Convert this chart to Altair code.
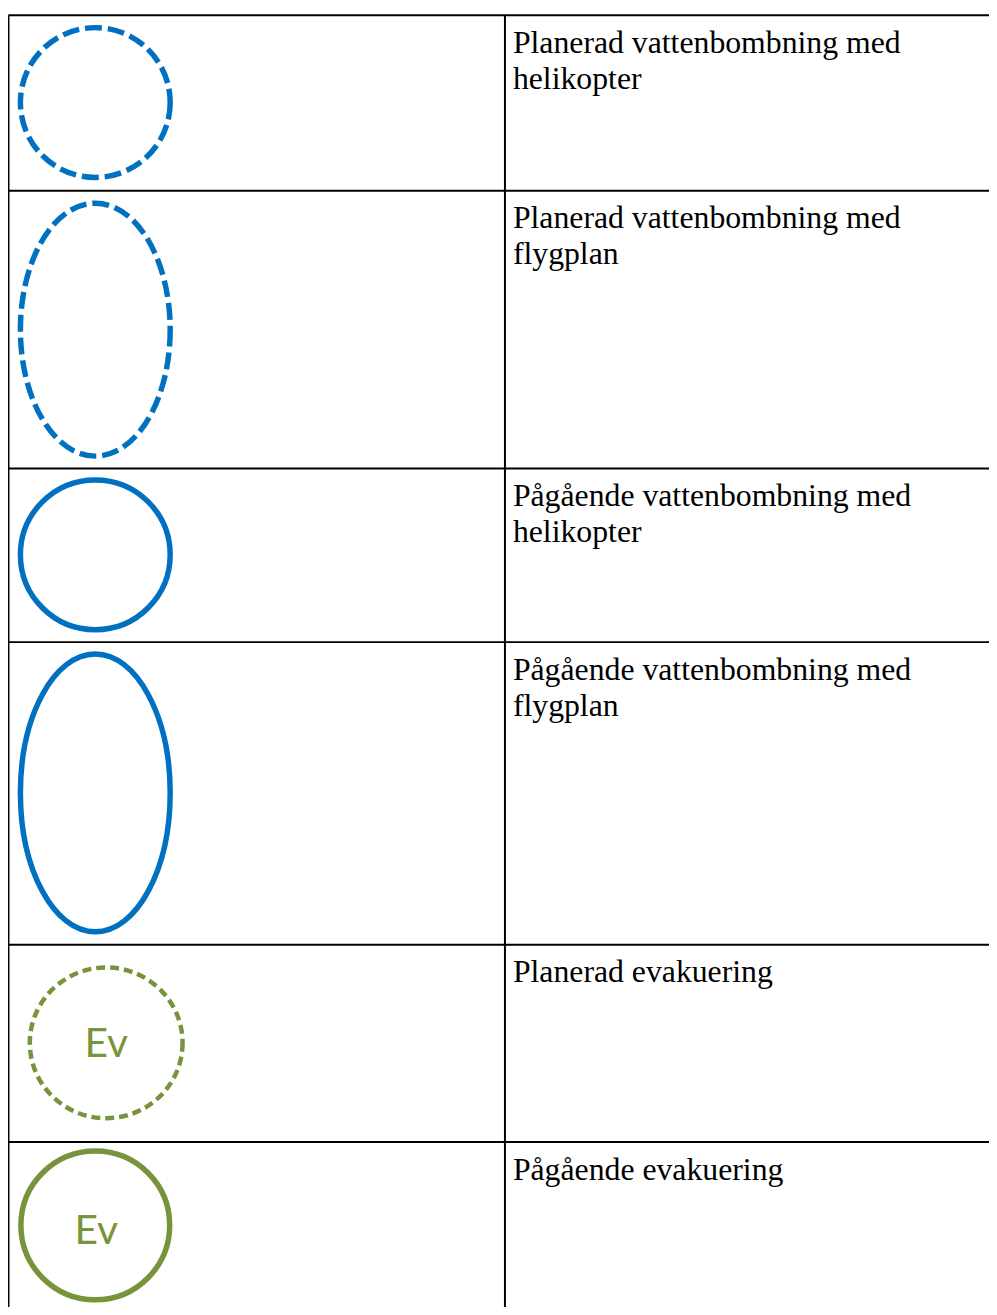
import altair as alt
import pandas as pd

# Page offset (body margin)
OFF = 8
W, H = 989, 1299

# --- Table grid (page pixel positions) ---
row_tops = [10, 187, 467, 642, 947, 1146]
col_lines = [8.5, 509]
grid_right = 997
grid_bottom = 1315

# --- Legend text (description column) ---
labels = [
    ["Planerad vattenbombning med", "helikopter"],
    ["Planerad vattenbombning med", "flygplan"],
    ["Pågående vattenbombning med", "helikopter"],
    ["Pågående vattenbombning med", "flygplan"],
    ["Planerad evakuering"],
    ["Pågående evakuering"],
]
text_x = 517
first_baseline = 38
line_gap = 36

# --- Symbols (centre x, centre y, radius x, radius y, style) ---
sym_cx = [96, 96, 96, 96, 107, 96]
sym_cy = [98, 327, 554, 794, 1046, 1230]
sym_rx = [75.5, 75.5, 75.5, 75.5, 77, 75]
sym_ry = [75.5, 127.5, 75.5, 140, 76, 75]
sym_style = ["blue_dash", "blue_dash", "blue_solid", "blue_solid", "green_dash", "green_solid"]

# "Ev" labels inside the evacuation symbols
ev_text = ["Ev", "Ev"]
ev_x = [107, 97]
ev_y = [1060, 1249]

BLUE = "#0070C0"
GREEN = "#77933C"


def ellipse_path(rx, ry):
    a = ry / rx
    k = 0.5523
    return (f"M 1 0 C 1 {k*a:.4f} {k:.4f} {a:.4f} 0 {a:.4f} "
            f"C {-k:.4f} {a:.4f} -1 {k*a:.4f} -1 0 "
            f"C -1 {-k*a:.4f} {-k:.4f} {-a:.4f} 0 {-a:.4f} "
            f"C {k:.4f} {-a:.4f} 1 {-k*a:.4f} 1 0 Z")


xs = alt.Scale(domain=[0, W], range=[0, W], nice=False, zero=False)
ys = alt.Scale(domain=[0, H], range=[0, H], nice=False, zero=False)

hl = pd.DataFrame({
    "y": [t - OFF for t in row_tops],
    "x": [col_lines[0] - OFF] * len(row_tops),
    "x2": [grid_right - OFF] * len(row_tops),
})
vl = pd.DataFrame({
    "x": [c - OFF for c in col_lines],
    "y": [row_tops[0] - OFF] * len(col_lines),
    "y2": [grid_bottom - OFF] * len(col_lines),
})

hrules = alt.Chart(hl).mark_rule(color="black", strokeWidth=2).encode(
    x=alt.X("x:Q", scale=xs, axis=None),
    x2="x2:Q",
    y=alt.Y("y:Q", scale=ys, axis=None),
)
vrules = alt.Chart(vl).mark_rule(color="black", strokeWidth=2).encode(
    x=alt.X("x:Q", scale=xs, axis=None),
    y=alt.Y("y:Q", scale=ys, axis=None),
    y2="y2:Q",
)

trows = []
for top, lines in zip(row_tops, labels):
    for i, ln in enumerate(lines):
        trows.append({"x": text_x - OFF, "y": top + first_baseline + i * line_gap - OFF, "t": ln})
tdf = pd.DataFrame(trows)
texts = alt.Chart(tdf).mark_text(
    align="left", baseline="alphabetic", font="Liberation Serif", fontSize=32, color="black"
).encode(
    x=alt.X("x:Q", scale=xs, axis=None),
    y=alt.Y("y:Q", scale=ys, axis=None),
    text="t:N",
)

sdf = pd.DataFrame({
    "x": [c - OFF for c in sym_cx],
    "y": [c - OFF for c in sym_cy],
    "size": [(2 * r) ** 2 for r in sym_rx],
    "shape": [ellipse_path(rx, ry) for rx, ry in zip(sym_rx, sym_ry)],
    "style": sym_style,
})

styles = {
    "blue_dash": dict(stroke=BLUE, strokeWidth=5.5, strokeDash=[17, 6]),
    "blue_solid": dict(stroke=BLUE, strokeWidth=5.5),
    "green_dash": dict(stroke=GREEN, strokeWidth=4.5, strokeDash=[9, 5]),
    "green_solid": dict(stroke=GREEN, strokeWidth=5.5),
}

sym_layers = []
for st, props in styles.items():
    sym_layers.append(
        alt.Chart(sdf).transform_filter(alt.datum.style == st).mark_point(
            filled=False, opacity=1, fill=None, **props
        ).encode(
            x=alt.X("x:Q", scale=xs, axis=None),
            y=alt.Y("y:Q", scale=ys, axis=None),
            size=alt.Size("size:Q", scale=None, legend=None),
            shape=alt.Shape("shape:N", scale=None, legend=None),
        )
    )

evdf = pd.DataFrame({"x": [v - OFF for v in ev_x], "y": [v - OFF for v in ev_y], "t": ev_text})
ev = alt.Chart(evdf).mark_text(
    align="center", baseline="alphabetic", font="Lato", fontSize=41, color=GREEN
).encode(
    x=alt.X("x:Q", scale=xs, axis=None),
    y=alt.Y("y:Q", scale=ys, axis=None),
    text="t:N",
)

chart = alt.layer(hrules, vrules, *sym_layers, texts, ev).properties(
    width=W, height=H, padding=0, autosize=alt.AutoSizeParams(type="none")
).configure_view(stroke=None)

chart.save("out.html", embed_options={"renderer": "svg", "actions": False})
